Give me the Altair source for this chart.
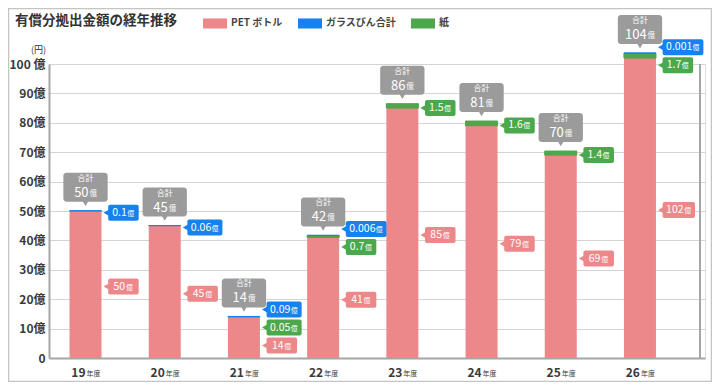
import altair as alt
import pandas as pd

# ---------------- data ----------------
years = ["19", "20", "21", "22", "23", "24", "25", "26"]
pet = [50, 45, 14, 41, 85, 79, 69, 102]
paper = [0, 0, 0.05, 0.7, 1.5, 1.6, 1.4, 1.7]
glass = [0.1, 0.06, 0.09, 0.006, 0, 0, 0, 0.001]
totals = [50, 45, 14, 42, 86, 81, 70, 104]
series_names = ["PET ボトル", "ガラスびん合計", "紙"]
series_colors = ["#EC888A", "#1682F0", "#4CA84C"]
y_ticks = list(range(0, 101, 10))
title_text = "有償分拠出金額の経年推移"

# ---------------- layout helpers ----------------
FONT = "Noto Sans CJK JP"
W, H = 656, 294
X0, X1 = -0.398, 7.758
KX = W / (X1 - X0)          # px per x unit
KY = H / 100.0              # px per y unit
BAR = 32
COL = dict(zip(series_names, series_colors))
PET_N, GLASS_N, PAPER_N = series_names[0], series_names[1], series_names[2]


def fmt(v):
    return f"{v:g}"


def text_w(s, digit, dot):
    return sum(dot if c == "." else digit for c in s)


# stacked segments
seg_rows = []
for i in range(len(years)):
    base = 0.0
    for name, v in [(PET_N, pet[i]), (PAPER_N, paper[i]), (GLASS_N, glass[i])]:
        if v > 0:
            seg_rows.append(dict(idx=i, series=name, y0=base, y1=base + v,
                                 fill=COL[name]))
            base += v
seg = pd.DataFrame(seg_rows)
thin = seg[seg.series != PET_N]

# right-side value callouts
lab_rows = []
G = 18 / KY
for i in range(len(years)):
    top = pet[i] + paper[i] + glass[i]
    items = []
    if glass[i] > 0:
        items.append([GLASS_N, fmt(glass[i]), top])
    if paper[i] > 0:
        items.append([PAPER_N, fmt(paper[i]), pet[i] + paper[i] / 2])
    items.append([PET_N, fmt(pet[i]), pet[i] / 2])
    for k in range(len(items) - 1):
        d = items[k][2] - items[k + 1][2]
        if d < G:
            if k == 0:
                s = (G - d) / 2
                items[k][2] += s
                items[k + 1][2] -= s
            else:
                items[k + 1][2] = items[k][2] - G
    for name, txt, a in items:
        a = a - 2 / KY
        nw = text_w(txt, 5.8, 2.7)
        cw = nw + 1 + 7.5
        bw = max(31, cw + 7)
        x0 = i + (BAR / 2 + 7) / KX
        tx = x0 + (bw - cw) / 2 / KX
        lab_rows.append(dict(idx=i, series=name, num=txt, oku="億", y=a,
                             bx0=x0, bx1=x0 + bw / KX,
                             by0=a - 8 / KY, by1=a + 8 / KY,
                             tri=x0 - 2 / KX, tx=tx, ox=tx + (nw + 1) / KX,
                             fill=COL[name]))
lab = pd.DataFrame(lab_rows)

# total callouts
tot_rows = []
for i in range(len(years)):
    top = pet[i] + paper[i] + glass[i]
    b0 = top + 9 / KY
    b1 = b0 + 29 / KY
    txt = str(totals[i])
    nw = text_w(txt, 7.3, 3.0)
    cw = nw + 1 + 7.5
    tx = i - cw / 2 / KX
    tot_rows.append(dict(idx=i, bx0=i - 22.5 / KX, bx1=i + 22.5 / KX,
                         by0=b0, by1=b1, tri=b0 - 1.5 / KY,
                         head="合計", num=txt, oku="億",
                         tx=tx, ox=tx + (nw + 1) / KX))
tot = pd.DataFrame(tot_rows)

xl = pd.DataFrame(dict(idx=list(range(len(years))), yr=years,
                       suf=["年度"] * len(years), zero=[0] * len(years)))

xs = alt.Scale(domain=[X0, X1], nice=False, zero=False)
ys = alt.Scale(domain=[0, 100], nice=False, zero=False)

x_axis = alt.Axis(labels=False, ticks=False, grid=False, title=None,
                  domain=True, domainColor="#a6a6a6", domainWidth=2)
y_axis = alt.Axis(values=y_ticks, ticks=False, grid=True,
                  gridColor="#d4d4d4", gridWidth=1,
                  domain=True, domainColor="#a6a6a6", domainWidth=2,
                  labelExpr="datum.value == 0 ? '0' : (datum.value == 100 ? '100 億' : datum.value + '億')",
                  labelFont=FONT, labelFontSize=12, labelColor="#3a3a3a",
                  labelFontWeight="bold", labelPadding=4,
                  title="(円)", titleAngle=0, titleX=-11, titleY=-15,
                  titleAlign="center", titleBaseline="middle",
                  titleFont=FONT, titleFontSize=9,
                  titleFontWeight="normal", titleColor="#333")


def X(f, **kw):
    return alt.X(f, scale=xs, axis=x_axis, **kw)


def Y(f, **kw):
    return alt.Y(f, scale=ys, axis=y_axis, **kw)


# ---------------- layers ----------------
legend = alt.Legend(
    orient="none", legendX=154, legendY=-53, direction="horizontal",
    title=None, symbolType="M-1,-0.42H1V0.42H-1Z", symbolSize=576,
    symbolStrokeWidth=0, labelFont=FONT, labelFontSize=10,
    labelFontWeight="bold", labelColor="#444", labelOffset=4,
    columnPadding=15, padding=0,
)

bars = alt.Chart(seg).mark_bar(size=BAR).encode(
    x=X("idx:Q"),
    y=Y("y0:Q"),
    y2="y1:Q",
    color=alt.Color("series:N",
                    scale=alt.Scale(domain=series_names, range=series_colors),
                    legend=legend),
)

thin_bars = alt.Chart(thin).mark_bar(size=BAR, strokeWidth=1).encode(
    x=X("idx:Q"), y=Y("y0:Q"), y2="y1:Q",
    fill=alt.Fill("fill:N", scale=None), stroke=alt.Stroke("fill:N", scale=None),
)

right_rule = alt.Chart(pd.DataFrame({"x": [X1], "a": [0], "b": [100]})).mark_rule(
    color="#a6a6a6", strokeWidth=2).encode(x=X("x:Q"), y=Y("a:Q"), y2="b:Q")

lab_box = alt.Chart(lab).mark_rect(cornerRadius=2).encode(
    x=X("bx0:Q"), x2="bx1:Q", y=Y("by0:Q"), y2="by1:Q",
    fill=alt.Fill("fill:N", scale=None))
lab_tri = alt.Chart(lab).mark_point(shape="triangle-left", filled=True,
                                    size=36, opacity=1).encode(
    x=X("tri:Q"), y=Y("y:Q"), fill=alt.Fill("fill:N", scale=None))
lab_num = alt.Chart(lab).mark_text(align="left", baseline="middle",
                                   font=FONT, fontSize=10.5, color="white").encode(
    x=X("tx:Q"), y=Y("y:Q"), text="num:N")
lab_oku = alt.Chart(lab).mark_text(align="left", baseline="middle", dy=1,
                                   font=FONT, fontSize=7, color="white").encode(
    x=X("ox:Q"), y=Y("y:Q"), text="oku:N")

tot_box = alt.Chart(tot).mark_rect(cornerRadius=3, color="#9B9B9B").encode(
    x=X("bx0:Q"), x2="bx1:Q", y=Y("by0:Q"), y2="by1:Q")
tot_tri = alt.Chart(tot).mark_point(shape="triangle-down", filled=True, size=42,
                                    color="#9B9B9B", opacity=1).encode(
    x=X("idx:Q"), y=Y("tri:Q"))
tot_head = alt.Chart(tot).mark_text(baseline="middle", dy=6, font=FONT,
                                    fontSize=8, color="white").encode(
    x=X("idx:Q"), y=Y("by1:Q"), text="head:N")
tot_num = alt.Chart(tot).mark_text(align="left", baseline="middle", dy=20,
                                   font=FONT, fontSize=13, color="white").encode(
    x=X("tx:Q"), y=Y("by1:Q"), text="num:N")
tot_oku = alt.Chart(tot).mark_text(align="left", baseline="middle", dy=21,
                                   font=FONT, fontSize=7.5, color="white").encode(
    x=X("ox:Q"), y=Y("by1:Q"), text="oku:N")

xl_num = alt.Chart(xl).mark_text(align="right", baseline="middle", dy=15,
                                 font=FONT, fontSize=12, fontWeight="bold",
                                 color="#3a3a3a").encode(
    x=X("idx:Q"), y=Y("zero:Q"), text="yr:N")
xl_suf = alt.Chart(xl).mark_text(align="left", baseline="middle", dy=16, dx=1,
                                 font=FONT, fontSize=7, color="#3a3a3a").encode(
    x=X("idx:Q"), y=Y("zero:Q"), text="suf:N")

title = alt.Chart(pd.DataFrame({"t": [title_text]})).mark_text(
    align="left", baseline="middle", font=FONT, fontSize=13.5,
    fontWeight="bold", color="#333").encode(
    text="t:N", x=alt.value(-34), y=alt.value(-43))

frame = alt.Chart(pd.DataFrame({"a": [0]})).mark_rect(
    fill=None, stroke="#c4c4c4", strokeWidth=1.5).encode(
    x=alt.value(-40.5), x2=alt.value(W + 6.5),
    y=alt.value(-55.5), y2=alt.value(H + 23.5))

chart = alt.layer(
    bars, frame, thin_bars, right_rule, lab_tri, lab_box, lab_num, lab_oku,
    tot_tri, tot_box, tot_head, tot_num, tot_oku, xl_num, xl_suf, title,
).properties(
    width=W, height=H,
    autosize=alt.AutoSizeParams(type="none"),
    padding={"left": 41, "top": 56, "right": 7, "bottom": 24},
).configure_view(stroke=None).configure(font=FONT)

chart.save("out.html", embed_options={"renderer": "svg", "actions": False})
